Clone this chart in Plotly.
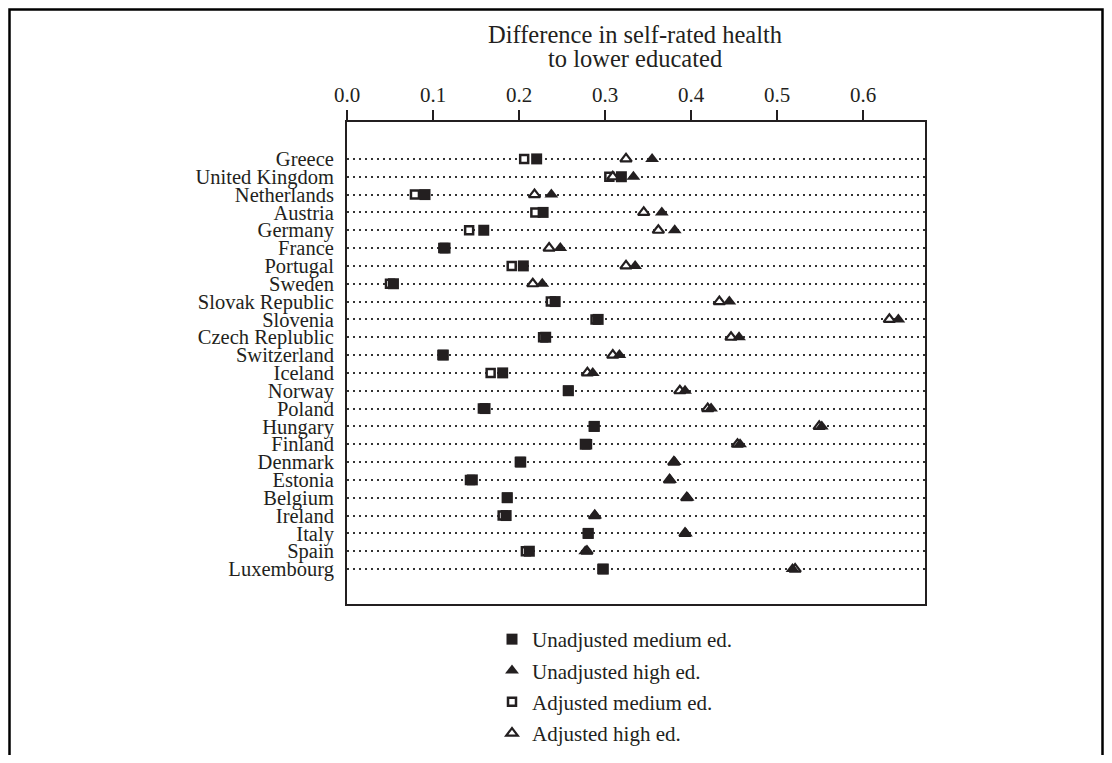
import plotly.graph_objects as go

countries = ["Greece", "United Kingdom", "Netherlands", "Austria", "Germany", "France",
             "Portugal", "Sweden", "Slovak Republic", "Slovenia", "Czech Replublic",
             "Switzerland", "Iceland", "Norway", "Poland", "Hungary", "Finland", "Denmark",
             "Estonia", "Belgium", "Ireland", "Italy", "Spain", "Luxembourg"]

unadj_medium = [0.2205, 0.319, 0.0907, 0.228, 0.159, 0.114, 0.205, 0.054, 0.242, 0.292,
                0.231, 0.112, 0.181, 0.2574, 0.1605, 0.2876, 0.277, 0.202, 0.1457, 0.1864,
                0.185, 0.2806, 0.212, 0.298]
unadj_high = [0.3547, 0.333, 0.2376, 0.366, 0.381, 0.248, 0.335, 0.227, 0.4445, 0.641,
              0.4558, 0.3167, 0.2857, 0.393, 0.4233, 0.552, 0.457, 0.381, 0.3756, 0.396,
              0.2884, 0.394, 0.277, 0.518]
adj_medium = [0.206, 0.305, 0.079, 0.219, 0.142, 0.112, 0.1915, 0.050, 0.237, 0.289,
              0.228, 0.111, 0.167, 0.257, 0.158, 0.287, 0.279, 0.201, 0.143, 0.186,
              0.181, 0.280, 0.208, 0.297]
adj_high = [0.3244, 0.309, 0.218, 0.345, 0.362, 0.235, 0.3244, 0.216, 0.4329, 0.6306,
            0.4465, 0.309, 0.2795, 0.387, 0.4194, 0.549, 0.454, 0.380, 0.375, 0.395,
            0.288, 0.393, 0.279, 0.521]

x_ticks = [0.0, 0.1, 0.2, 0.3, 0.4, 0.5, 0.6]
title_lines = ["Difference in self-rated health", "to lower educated"]

FONT = "Liberation Serif"
INK = "#231f20"
ypos = list(range(len(countries)))

# plot area geometry (figure pixels)
W, H = 1096, 747
L, T, PW, PH = 339, 114, 578, 482


def px(xp):
    return (xp - L) / PW


def py(yp):
    return (T + PH - yp) / PH


fig = go.Figure()
# adjusted (hollow, white-filled) drawn first, unadjusted filled on top
fig.add_trace(go.Scatter(x=adj_medium, y=ypos, mode="markers", name="Adjusted medium ed.",
                         legendrank=3, legendgroup="c",
                         marker=dict(symbol="square", size=8, color="white",
                                     line=dict(color=INK, width=2.5))))
fig.add_trace(go.Scatter(x=adj_high, y=ypos, mode="markers", name="Adjusted high ed.",
                         legendrank=4, legendgroup="d",
                         marker=dict(symbol="triangle-up", size=10, color="white",
                                     line=dict(color=INK, width=2.2))))
fig.add_trace(go.Scatter(x=unadj_medium, y=ypos, mode="markers", name="Unadjusted medium ed.",
                         legendrank=1, legendgroup="a",
                         marker=dict(symbol="square", size=11, color=INK,
                                     line=dict(width=0))))
fig.add_trace(go.Scatter(x=unadj_high, y=ypos, mode="markers", name="Unadjusted high ed.",
                         legendrank=2, legendgroup="b",
                         marker=dict(symbol="triangle-up", size=12, color=INK,
                                     line=dict(width=0))))

fig.update_layout(
    width=W, height=H, autosize=False,
    margin=dict(l=L, r=W - L - PW, t=T, b=H - T - PH, pad=0, autoexpand=False),
    paper_bgcolor="white", plot_bgcolor="white",
    font=dict(family=FONT, size=20, color=INK),
    showlegend=True,
    legend=dict(x=px(484), xanchor="left", y=py(611), yanchor="top",
                font=dict(family=FONT, size=21, color=INK),
                traceorder="grouped", tracegroupgap=1,
                bgcolor="rgba(0,0,0,0)"),
    xaxis=dict(side="top", range=[0, 0.672], tickvals=x_ticks,
               ticktext=[f"{v:.1f}" for v in x_ticks],
               ticks="outside", ticklen=10, tickwidth=1.5, tickcolor=INK,
               showline=True, linecolor=INK, linewidth=2, mirror=True,
               showgrid=False, zeroline=False,
               tickfont=dict(family=FONT, size=21, color=INK)),
    yaxis=dict(range=[24.96, -2.07], tickvals=ypos, ticktext=countries,
               ticks="", ticklabelstandoff=7,
               showline=True, linecolor=INK, linewidth=2, mirror=True,
               showgrid=True, gridcolor="#333333", gridwidth=2, griddash="2px,4px",
               zeroline=False,
               tickfont=dict(family=FONT, size=20.5, color=INK)),
    annotations=[
        dict(text=title_lines[0], xref="paper", yref="paper", x=px(626.5), y=py(27),
             xanchor="center", yanchor="middle", showarrow=False,
             font=dict(family=FONT, size=24.5, color=INK)),
        dict(text=title_lines[1], xref="paper", yref="paper", x=px(626.5), y=py(50),
             xanchor="center", yanchor="middle", showarrow=False,
             font=dict(family=FONT, size=24.5, color=INK)),
    ],
    shapes=[dict(type="rect", xref="paper", yref="paper",
                 x0=px(1.5), x1=px(W - 1.5), y0=py(H + 20), y1=py(1.5),
                 line=dict(color="black", width=2.5), layer="above")],
)

fig.write_html("out.html")
